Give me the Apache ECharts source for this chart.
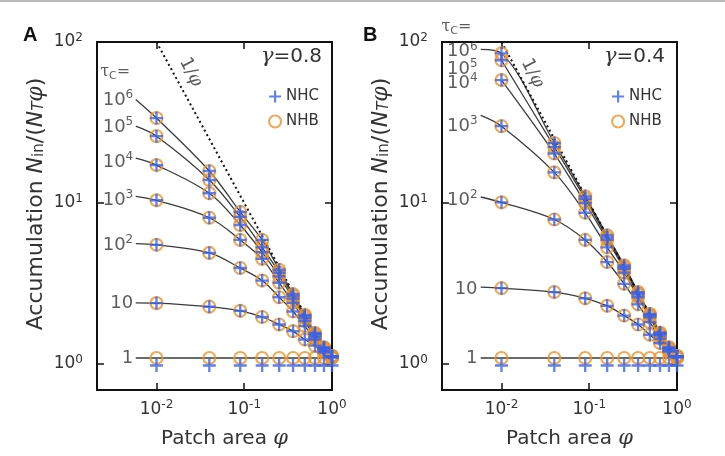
<!DOCTYPE html>
<html>
<head>
<meta charset="utf-8">
<script src="https://cdn.jsdelivr.net/npm/echarts@6/dist/echarts.min.js"></script>
<style>
  html, body { margin: 0; padding: 0; background: #fff; }
  #chart { width: 725px; height: 456px; }
</style>
</head>
<body>
<div id="chart"></div>
<script>
// patch areas of the simulated points
const phi = [0.01, 0.04, 0.09, 0.16, 0.25, 0.36, 0.49, 0.64, 0.81, 1.0];
// tau_C of each curve, as powers of ten (top to bottom)
const tauExp = [6, 5, 4, 3, 2, 1, 0];

// panel A, gamma = 0.8 (NHB circles, also the curve)
const accA_6 = [33.7, 15.8, 8.8, 5.9, 3.85, 2.72, 2.02, 1.56, 1.27, 1.12];
const accA_5 = [26.0, 13.9, 8.2, 5.3, 3.7, 2.65, 1.98, 1.54, 1.26, 1.12];
const accA_4 = [17.2, 11.5, 7.3, 4.95, 3.5, 2.55, 1.93, 1.51, 1.25, 1.12];
const accA_3 = [10.4, 8.1, 5.9, 4.5, 3.2, 2.4, 1.85, 1.47, 1.23, 1.11];
const accA_2 = [5.5, 4.9, 3.95, 3.3, 2.6, 2.12, 1.72, 1.42, 1.2, 1.1];
const accA_1 = [2.39, 2.27, 2.14, 1.96, 1.76, 1.6, 1.42, 1.3, 1.18, 1.1];
const accA_0 = [1.09, 1.09, 1.09, 1.09, 1.09, 1.09, 1.09, 1.09, 1.09, 1.09];
const nhcA_0 = [0.98, 0.98, 0.98, 0.98, 0.98, 0.98, 0.98, 0.98, 0.98, 0.98];
const startA = [44, 30, 19, 11, 5.6, 2.4, 1.09];
const labelA = [43.6, 29.6, 18, 10.4, 5.5, 2.39, 1.09];

// panel B, gamma = 0.4
const accB_6 = [85, 23.6, 11.0, 6.3, 4.1, 2.8, 2.05, 1.57, 1.27, 1.12];
const accB_5 = [77, 22.3, 10.6, 6.1, 4.0, 2.76, 2.02, 1.55, 1.26, 1.12];
const accB_4 = [58, 20.3, 10.0, 5.9, 3.9, 2.7, 2.0, 1.54, 1.25, 1.12];
const accB_3 = [30, 15.5, 8.7, 5.3, 3.7, 2.6, 1.95, 1.5, 1.23, 1.11];
const accB_2 = [10.1, 7.9, 5.9, 4.3, 3.15, 2.35, 1.82, 1.44, 1.2, 1.1];
const accB_1 = [2.96, 2.8, 2.56, 2.3, 2.0, 1.76, 1.52, 1.35, 1.2, 1.1];
const accB_0 = [1.09, 1.09, 1.09, 1.09, 1.09, 1.09, 1.09, 1.09, 1.09, 1.09];
const nhcB_0 = [0.98, 0.98, 0.98, 0.98, 0.98, 0.98, 0.98, 0.98, 0.98, 0.98];
const startB = [90, null, null, 35, 10.9, 3.0, 1.09];
const labelB = [87, 68, 55.6, 30, 10.4, 2.92, 1.09];

const startPhi = 0.0058;
const oneOverPhi = [[0.01, 100], [1, 1]];

const BLUE = '#3a62e8';
const ORANGE = '#e8952f';
const TXT = '#333';
const PLUS = 'path://M4.1,0H5.9V4.1H10V5.9H5.9V10H4.1V5.9H0V4.1H4.1Z';

const supRich = {
  b: { fontSize: 17, lineHeight: 21, color: TXT, fontFamily: 'DejaVu Sans' },
  s: { fontSize: 12, lineHeight: 12, verticalAlign: 'top', color: TXT, fontFamily: 'DejaVu Sans' }
};
const curveRich = {
  b: { fontSize: 18, lineHeight: 22, color: TXT, fontFamily: 'DejaVu Sans' },
  s: { fontSize: 12, lineHeight: 12, verticalAlign: 'top', color: TXT, fontFamily: 'DejaVu Sans' },
  t: { fontSize: 16, lineHeight: 20, color: TXT, fontFamily: 'DejaVu Serif' },
  c: { fontSize: 11, lineHeight: 10, verticalAlign: 'bottom', color: TXT, fontFamily: 'DejaVu Sans' },
  r: { fontSize: 18, lineHeight: 22, color: TXT, fontFamily: 'DejaVu Sans' },
  p: { fontSize: 18, lineHeight: 22, color: TXT, fontFamily: 'DejaVu Serif', fontStyle: 'italic' }
};

function tauText(e) {
  if (e === 0) return '{b|1}';
  if (e === 1) return '{b|10}';
  return '{b|10}{s|' + e + '}';
}

function powLabel(v) {
  const l = Math.log10(v);
  const e = Math.round(l);
  if (Math.abs(l - e) > 1e-3) return '';
  return '{b|10}{s|' + e + '}';
}

function buildPanel(g, rows, nhc0, starts, labels, tauY, tauPhi) {
  const series = [];
  // theory curves
  rows.forEach((row, i) => {
    const pts = [];
    if (starts[i] != null) pts.push([startPhi, starts[i]]);
    row.forEach((v, j) => pts.push([phi[j], v]));
    series.push({
      type: 'line', xAxisIndex: g * 2, yAxisIndex: g * 2, data: pts,
      smooth: 0.35, showSymbol: false, silent: true,
      lineStyle: { color: '#3a3a3a', width: 1.3 }, z: 2
    });
  });
  // 1/phi
  series.push({
    type: 'line', xAxisIndex: g * 2, yAxisIndex: g * 2, data: oneOverPhi,
    showSymbol: false, silent: true,
    lineStyle: { color: '#111', width: 2, type: [2, 3] }, z: 2
  });
  const nhb = [], nhcPts = [];
  rows.forEach((row, i) => {
    row.forEach((v, j) => {
      nhb.push([phi[j], v]);
      nhcPts.push([phi[j], i === rows.length - 1 ? nhc0[j] : v]);
    });
  });
  series.push({
    name: 'NHB', type: 'scatter', xAxisIndex: g * 2, yAxisIndex: g * 2, data: nhb,
    symbol: 'circle', symbolSize: 12,
    itemStyle: { color: 'rgba(0,0,0,0)', borderColor: ORANGE, borderWidth: 2.2 }, z: 3
  });
  series.push({
    name: 'NHC', type: 'scatter', xAxisIndex: g * 2, yAxisIndex: g * 2, data: nhcPts,
    symbol: PLUS, symbolSize: 13, itemStyle: { color: BLUE }, z: 4
  });
  // curve labels
  series.push({
    type: 'scatter', xAxisIndex: g * 2, yAxisIndex: g * 2, silent: true, clip: false,
    symbolSize: 1, itemStyle: { color: 'rgba(0,0,0,0)' }, z: 5,
    data: labels.map((y, i) => ({ value: [tauPhi, y], name: tauText(tauExp[i]) })),
    label: {
      show: true, position: 'left', distance: 2,
      formatter: p => p.name, rich: curveRich
    }
  });
  // tau_C= and 1/phi
  series.push({
    type: 'scatter', xAxisIndex: g * 2, yAxisIndex: g * 2, silent: true, clip: false,
    symbolSize: 1, itemStyle: { color: 'rgba(0,0,0,0)' }, z: 5,
    data: [
      { value: tauY, label: { show: true, position: 'right', distance: 0, formatter: '{t|τ}{c|C}{t|=}', rich: curveRich } },
      { value: g === 0 ? [0.0245, 65] : [0.0225, 64],
        label: { show: true, position: 'inside', rotate: -62, formatter: '{r|1/}{p|φ}', rich: curveRich } }
    ]
  });
  return series;
}

function axesFor(g) {
  const lineStyle = { color: '#111', width: 2 };
  const tick = { inside: true, length: 7, lineStyle: { color: '#111', width: 1.5 } };
  const xBase = { type: 'log', logBase: 10, gridIndex: g, min: 0.0021, max: 1, splitLine: { show: false },
    axisLine: { onZero: false, lineStyle }, axisTick: tick };
  const yBase = { type: 'log', logBase: 10, gridIndex: g, min: 0.69, max: 100, splitLine: { show: false },
    axisLine: { onZero: false, lineStyle }, axisTick: tick };
  return {
    x: [
      Object.assign({}, xBase, {
        position: 'bottom',
        axisLabel: { formatter: powLabel, margin: 9, rich: supRich },
        name: 'Patch area {p|φ}', nameLocation: 'middle', nameGap: 38,
        nameTextStyle: {
          fontSize: 20, color: TXT, fontFamily: 'DejaVu Sans', padding: [0, 0, 0, 20],
          rich: { p: { fontSize: 21, fontFamily: 'DejaVu Serif', fontStyle: 'italic', color: TXT } }
        }
      }),
      Object.assign({}, xBase, { position: 'top', axisLabel: { show: false } })
    ],
    y: [
      Object.assign({}, yBase, {
        position: 'left',
        axisLabel: { formatter: powLabel, margin: 14, rich: supRich },
        name: 'Accumulation {i|N}{sb|in}/({i|N}{st|T}{p|φ})', nameLocation: 'middle', nameGap: 50, nameRotate: 90,
        nameTextStyle: {
          fontSize: 22, color: TXT, fontFamily: 'DejaVu Sans', padding: [0, 0, 0, 24],
          rich: {
            i: { fontSize: 22, fontStyle: 'italic', fontFamily: 'DejaVu Sans', color: TXT },
            sb: { fontSize: 15, fontFamily: 'DejaVu Sans', color: TXT, verticalAlign: 'bottom', lineHeight: 12 },
            st: { fontSize: 15, fontStyle: 'italic', fontFamily: 'DejaVu Sans', color: TXT, verticalAlign: 'bottom', lineHeight: 12 },
            p: { fontSize: 22, fontStyle: 'italic', fontFamily: 'DejaVu Serif', color: TXT }
          }
        }
      }),
      Object.assign({}, yBase, { position: 'right', axisLabel: { show: false } })
    ]
  };
}

const axA = axesFor(0), axB = axesFor(1);
const seriesA = buildPanel(0, [accA_6, accA_5, accA_4, accA_3, accA_2, accA_1, accA_0], nhcA_0, startA, labelA, [0.00225, 65], startPhi);
const seriesB = buildPanel(1, [accB_6, accB_5, accB_4, accB_3, accB_2, accB_1, accB_0], nhcB_0, startB, labelB, [0.00204, 125], 0.0057);

const legendData = [
  { name: 'NHC', icon: PLUS, itemStyle: { color: BLUE } },
  { name: 'NHB', icon: 'circle', itemStyle: { color: 'rgba(0,0,0,0)', borderColor: ORANGE, borderWidth: 2.2 } }
];
const legendBase = {
  orient: 'vertical', top: 89, itemWidth: 12, itemHeight: 12, itemGap: 10, padding: 0,
  selectedMode: false, data: legendData,
  textStyle: { fontSize: 15, color: TXT, fontFamily: 'DejaVu Sans' }
};
const gammaRich = {
  g: { fontSize: 21, fontFamily: 'DejaVu Serif', fontStyle: 'italic', fontWeight: 'normal', color: TXT },
  v: { fontSize: 20, fontFamily: 'DejaVu Sans', fontWeight: 'normal', color: TXT }
};
const letterStyle = { fontSize: 20, fontWeight: 'bold', color: '#111', fontFamily: 'Liberation Sans' };

const chart = echarts.init(document.getElementById('chart'));
chart.setOption({
  animation: false,
  backgroundColor: '#fff',
  grid: [
    { left: 97, top: 42, width: 235, height: 348 },
    { left: 442, top: 42, width: 235, height: 348 }
  ],
  xAxis: axA.x.concat(axB.x),
  yAxis: axA.y.concat(axB.y),
  title: [
    { text: 'A', left: 23, top: 25, padding: 0, textStyle: letterStyle },
    { text: 'B', left: 363, top: 25, padding: 0, textStyle: letterStyle },
    { text: '{g|γ}{v|=0.8}', right: 403, top: 46, padding: 0, textStyle: { fontWeight: 'normal', rich: gammaRich } },
    { text: '{g|γ}{v|=0.4}', right: 60, top: 46, padding: 0, textStyle: { fontWeight: 'normal', rich: gammaRich } }
  ],
  legend: [
    Object.assign({}, legendBase, { left: 268 }),
    Object.assign({}, legendBase, { left: 611 })
  ],
  graphic: [
    { type: 'line', shape: { x1: 0, y1: 1, x2: 725, y2: 1 }, style: { stroke: '#bbb', lineWidth: 2 } }
  ],
  series: seriesA.concat(seriesB)
});
</script>
</body>
</html>
